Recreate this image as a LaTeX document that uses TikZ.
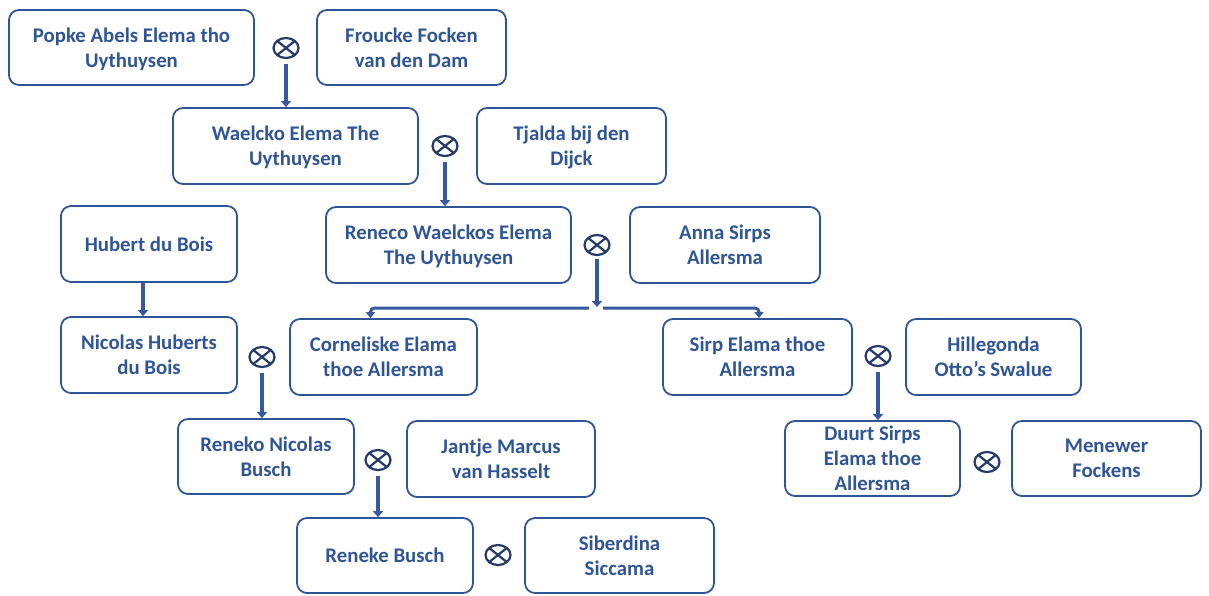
\documentclass[tikz,border=0pt]{standalone}
\usepackage{fontspec}
\setmainfont{Carlito}
\usetikzlibrary{shapes.geometric,arrows.meta}
\definecolor{boxc}{RGB}{47,85,151}
\definecolor{arrc}{RGB}{55,88,158}
\definecolor{mcol}{RGB}{38,58,105}
\tikzset{
  person/.style={draw=boxc, line width=1.8pt, rounded corners=10pt, text=boxc,
    font=\fontsize{20.8}{25}\selectfont\bfseries, align=center, inner sep=0pt, text depth=0pt},
  marr/.style={ellipse, draw=mcol, line width=2.2pt, minimum width=25pt, minimum height=20pt, inner sep=0pt,
    path picture={\draw[mcol,line width=2.2pt] (path picture bounding box.north west) -- (path picture bounding box.south east)
      (path picture bounding box.north east) -- (path picture bounding box.south west);}},
  arr/.style={draw=arrc, line width=3.5pt, -{Triangle[width=10pt,length=6pt]}},
  brarr/.style={draw=arrc, line width=3pt, rounded corners=4pt, -{Triangle[width=9pt,length=6pt]}}
}
\begin{document}
\begin{tikzpicture}[x=1pt,y=-1pt]
\useasboundingbox (0,0) rectangle (1209,595);
% persons
\node[person, minimum width=245pt, minimum height=75pt] (popke) at (131.5,47.5) {Popke Abels Elema tho\\Uythuysen};
\node[person, minimum width=189pt, minimum height=75pt] (froucke) at (411.5,47.5) {Froucke Focken\\van den Dam};
\node[person, minimum width=245pt, minimum height=76pt] (waelcko) at (295.5,146) {Waelcko Elema The\\Uythuysen};
\node[person, minimum width=189pt, minimum height=76pt] (tjalda) at (571.5,146) {Tjalda bij den\\Dijck};
\node[person, minimum width=176pt, minimum height=76pt] (hubert) at (149,244) {Hubert du Bois};
\node[person, minimum width=245pt, minimum height=76pt] (reneco) at (448.5,245) {Reneco Waelckos Elema\\The Uythuysen};
\node[person, minimum width=190pt, minimum height=76pt] (anna) at (725,245) {Anna Sirps\\Allersma};
\node[person, minimum width=176pt, minimum height=76pt] (nicolas) at (149,355) {Nicolas Huberts\\du Bois};
\node[person, minimum width=187pt, minimum height=76pt] (cornel) at (383.5,357) {Corneliske Elama\\thoe Allersma};
\node[person, minimum width=189pt, minimum height=76pt] (sirp) at (757.5,357) {Sirp Elama thoe\\Allersma};
\node[person, minimum width=175pt, minimum height=76pt] (hille) at (993.5,357) {Hillegonda\\Otto’s Swalue};
\node[person, minimum width=176pt, minimum height=75pt] (reneko) at (266,456.5) {Reneko Nicolas\\Busch};
\node[person, minimum width=188pt, minimum height=76pt] (jantje) at (501,459) {Jantje Marcus\\van Hasselt};
\node[person, minimum width=175pt, minimum height=75pt] (duurt) at (872.5,458.5) {Duurt Sirps\\Elama thoe\\Allersma};
\node[person, minimum width=189pt, minimum height=75pt] (menewer) at (1106.5,458.5) {Menewer\\Fockens};
\node[person, minimum width=176pt, minimum height=75pt] (reneke) at (385,555.5) {Reneke Busch};
\node[person, minimum width=189pt, minimum height=75pt] (siber) at (619.5,555.5) {Siberdina\\Siccama};
% marriages
\node[marr] (m1) at (286,48) {};
\node[marr] (m2) at (445,146) {};
\node[marr] (m3) at (597,245) {};
\node[marr] (m4) at (262,357) {};
\node[marr] (m5) at (378,460) {};
\node[marr] (m6) at (498,555) {};
\node[marr] (m7) at (878,356) {};
\node[marr] (m8) at (987,462) {};
% branch points
\coordinate (br) at (597,307);
\coordinate (brL) at (589,308);
\coordinate (brR) at (603,308);
% arrows
\draw[arr, shorten <=5pt] (m1.south) -- (m1.south |- waelcko.north);
\draw[arr, shorten <=5pt] (m2.south) -- (m2.south |- reneco.north);
\draw[arr, shorten <=3pt] (m3.south) -- (br);
\draw[brarr] (brL) -| ([xshift=-13pt]cornel.north);
\draw[brarr] (brR) -| ([xshift=1.5pt]sirp.north);
\draw[arr] ([xshift=-6pt]hubert.south) -- ([xshift=-6pt]nicolas.north);
\draw[arr, shorten <=5pt] (m4.south) -- (m4.south |- reneko.north);
\draw[arr, shorten <=5pt] (m5.south) -- (m5.south |- reneke.north);
\draw[arr, shorten <=5pt] (m7.south) -- (m7.south |- duurt.north);
\end{tikzpicture}
\end{document}
